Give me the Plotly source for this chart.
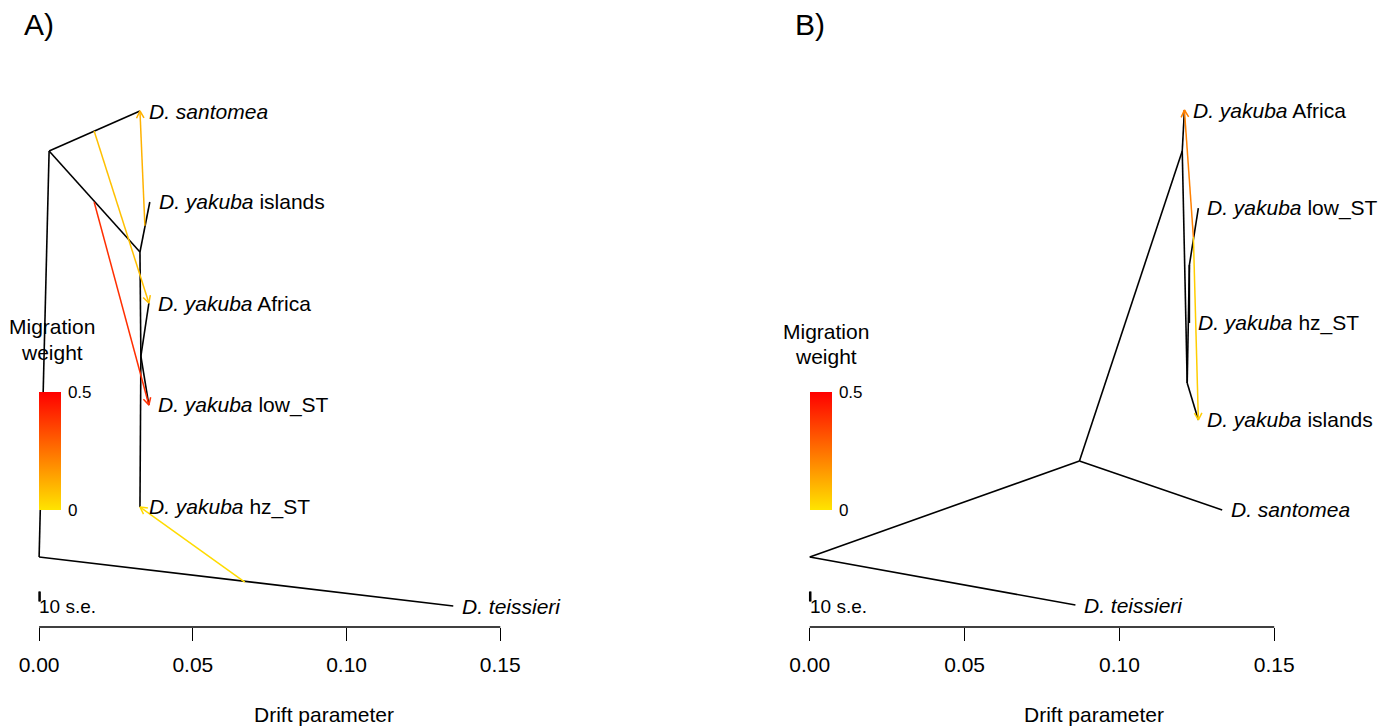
import numpy as np
import plotly.graph_objects as go
from plotly.colors import sample_colorscale

# ---------------- data ----------------
# Panel A tree (x = drift parameter, y = vertical tip position)
A_node_names = ["root", "n1", "n2", "n3", "teissieri", "santomea", "islands", "africa", "lowST", "hzST"]
A_node_x = [0.0, 0.00325, 0.0328, 0.0331, 0.1347, 0.0328, 0.0360, 0.0357, 0.0357, 0.0328]
A_node_y = [0.495, 4.596, 3.576, 2.525, 0.0, 5.0, 4.081, 3.06, 2.03, 1.0]
A_edge_from = ["root", "root", "n1", "n1", "n2", "n2", "n3", "n3", "n3"]
A_edge_to = ["teissieri", "n1", "santomea", "n2", "islands", "n3", "africa", "lowST", "hzST"]
A_mig_from_x = [0.0179, 0.0179, 0.0669, 0.0344]
A_mig_from_y = [4.798, 4.081, 0.242, 3.84]
A_mig_to = ["africa", "lowST", "hzST", "santomea"]
A_mig_weight = [0.08, 0.40, 0.02, 0.11]

# Panel B tree
B_node_names = ["root", "n1", "n2", "n3", "n4", "teissieri", "santomea", "africa", "islands", "lowST", "hzST"]
B_node_x = [0.0, 0.0871, 0.1203, 0.1219, 0.1226, 0.0858, 0.1332, 0.1210, 0.1255, 0.1255, 0.1226]
B_node_y = [0.495, 1.465, 4.596, 2.253, 3.444, 0.01, 0.97, 5.01, 1.879, 4.02, 2.859]
B_edge_from = ["root", "root", "n1", "n1", "n2", "n2", "n3", "n3", "n4", "n4"]
B_edge_to = ["teissieri", "n1", "santomea", "n2", "africa", "n3", "islands", "n4", "lowST", "hzST"]
B_mig_from_x = [0.1239, 0.1239]
B_mig_from_y = [3.727, 3.727]
B_mig_to = ["africa", "islands"]
B_mig_weight = [0.22, 0.05]

tip_names = ["teissieri", "santomea", "islands", "africa", "lowST", "hzST"]
tip_labels = ["<i>D. teissieri</i>", "<i>D. santomea</i>", "<i>D. yakuba</i> islands",
              "<i>D. yakuba</i> Africa", "<i>D. yakuba</i> low_ST", "<i>D. yakuba</i> hz_ST"]

x_tickvals = [0.0, 0.05, 0.10, 0.15]
x_ticktext = ["0.00", "0.05", "0.10", "0.15"]
scale_bar_len = 0.0003          # 10 standard errors (tiny)
weight_range = [0.0, 0.5]
weight_ticktext = ["0", "0.5"]
mig_colorscale = [[0.0, "#FFE400"], [1.0, "#FF0000"]]

# ---------------- layout geometry ----------------
W, H = 1397, 727
FONT = "Liberation Sans, Arial, Helvetica, sans-serif"
PLOT_TOP, PLOT_BOTTOM = 60, 627
Y_RANGE = [-0.2121, 5.5152]
PANELS = {
    "A": dict(xr=[-0.0072, 0.1828], px=(15, 600), xa="x", ya="y", mig_title=(50, 327)),
    "B": dict(xr=[-0.0061, 0.1874], px=(790, 1390), xa="x2", ya="y2", mig_title=(825, 331)),
}

fig = go.Figure()


def add_panel(key, names, nx, ny, efrom, eto, mfx, mfy, mto, mw):
    P = PANELS[key]
    xa, ya = P["xa"], P["ya"]
    sx = (P["px"][1] - P["px"][0]) / (P["xr"][1] - P["xr"][0])
    sy = (PLOT_BOTTOM - PLOT_TOP) / (Y_RANGE[1] - Y_RANGE[0])
    pos = {n: (x, y) for n, x, y in zip(names, nx, ny)}

    # tree edges
    ex, ey = [], []
    for a, b in zip(efrom, eto):
        ex += [pos[a][0], pos[b][0], None]
        ey += [pos[a][1], pos[b][1], None]
    fig.add_trace(go.Scatter(x=ex, y=ey, mode="lines", xaxis=xa, yaxis=ya,
                             line=dict(color="black", width=1.6), hoverinfo="skip"))

    # migration edges with arrow heads
    cols = sample_colorscale(mig_colorscale, [w / weight_range[1] for w in mw])
    for x0, y0, t, c in zip(mfx, mfy, mto, cols):
        x1, y1 = pos[t]
        dx, dy = (x1 - x0) * sx, (y1 - y0) * sy
        L = np.hypot(dx, dy)
        ux, uy = dx / L, dy / L
        hl, ang = 8.0, np.radians(28)
        wings = []
        for s in (1, -1):
            ca, sa = np.cos(s * ang), np.sin(s * ang)
            rx, ry = ux * ca - uy * sa, ux * sa + uy * ca
            wings.append((x1 - hl * rx / sx, y1 - hl * ry / sy))
        fig.add_trace(go.Scatter(
            x=[x0, x1, None, wings[0][0], x1, wings[1][0]],
            y=[y0, y1, None, wings[0][1], y1, wings[1][1]],
            mode="lines", xaxis=xa, yaxis=ya, line=dict(color=c, width=1.5), hoverinfo="skip"))

    # scale bar (10 s.e.)
    bar_y, bar_h = 0.096, 0.05
    fig.add_trace(go.Scatter(
        x=[0, 0, None, scale_bar_len, scale_bar_len, None, 0, scale_bar_len],
        y=[bar_y - bar_h, bar_y + bar_h, None, bar_y - bar_h, bar_y + bar_h, None, bar_y, bar_y],
        mode="lines", xaxis=xa, yaxis=ya, line=dict(color="black", width=1.6), hoverinfo="skip"))
    fig.add_annotation(x=0, y=-0.01, xref=xa, yref=ya, text="10 s.e.", showarrow=False,
                       xanchor="left", yanchor="middle", xshift=-2,
                       font=dict(family=FONT, size=19, color="black"))

    # tip labels
    for n, lab in zip(tip_names, tip_labels):
        fig.add_annotation(x=pos[n][0], y=pos[n][1], xref=xa, yref=ya, text=lab, showarrow=False,
                           xanchor="left", yanchor="middle", xshift=7,
                           font=dict(family=FONT, size=21, color="black"))

    # colour bar via a dummy trace
    x0px = P["px"][0] + (0 - P["xr"][0]) * sx
    cbar = dict(x=x0px / W, xanchor="left", xpad=0, y=1 - 451 / H, yanchor="middle",
                ypad=0, len=118, lenmode="pixels", thickness=22, thicknessmode="pixels",
                outlinewidth=0, tickvals=weight_range, ticktext=weight_ticktext,
                ticks="outside", ticklen=4, tickcolor="rgba(0,0,0,0)",
                tickfont=dict(family=FONT, size=17, color="black"))
    fig.add_trace(go.Scatter(
        x=[pos[tip_names[0]][0]] * 2, y=[pos[tip_names[0]][1]] * 2, xaxis=xa, yaxis=ya,
        mode="markers", hoverinfo="skip",
        marker=dict(size=1, opacity=0, color=weight_range, cmin=weight_range[0], cmax=weight_range[1],
                    colorscale=mig_colorscale, showscale=True, colorbar=cbar)))

    # colour bar title
    tx, ty = P["mig_title"]
    for i, word in enumerate(["Migration", "weight"]):
        fig.add_annotation(x=tx / W, y=1 - (ty + 25 * i) / H, xref="paper", yref="paper",
                           text=word, showarrow=False, xanchor="center", yanchor="middle",
                           font=dict(family=FONT, size=21, color="black"))
    return x0px


# ---------------- build ----------------
x0A = add_panel("A", A_node_names, A_node_x, A_node_y, A_edge_from, A_edge_to,
                A_mig_from_x, A_mig_from_y, A_mig_to, A_mig_weight)
x0B = add_panel("B", B_node_names, B_node_x, B_node_y, B_edge_from, B_edge_to,
                B_mig_from_x, B_mig_from_y, B_mig_to, B_mig_weight)

ydom = [1 - PLOT_BOTTOM / H, 1 - PLOT_TOP / H]
axis_common = dict(showgrid=False, zeroline=False, showline=False, ticks="outside", ticklen=13,
                   tickwidth=1.3, tickcolor="black", tickvals=x_tickvals, ticktext=x_ticktext,
                   ticklabelstandoff=6,
                   tickfont=dict(family=FONT, size=21, color="black"), fixedrange=True)
yaxis_common = dict(range=Y_RANGE, domain=ydom, visible=False, fixedrange=True)

fig.update_layout(
    width=W, height=H, margin=dict(l=0, r=0, t=0, b=0),
    paper_bgcolor="white", plot_bgcolor="white", showlegend=False,
    xaxis=dict(range=PANELS["A"]["xr"], domain=[PANELS["A"]["px"][0] / W, PANELS["A"]["px"][1] / W],
               anchor="y", **axis_common),
    yaxis=dict(anchor="x", **yaxis_common),
    xaxis2=dict(range=PANELS["B"]["xr"], domain=[PANELS["B"]["px"][0] / W, PANELS["B"]["px"][1] / W],
                anchor="y2", **axis_common),
    yaxis2=dict(anchor="x2", **yaxis_common),
)

# axis baselines from first to last tick
for xa in ("x", "x2"):
    fig.add_shape(type="line", xref=xa, yref="paper", x0=x_tickvals[0], x1=x_tickvals[-1],
                  y0=ydom[0], y1=ydom[0], line=dict(color="black", width=1.3))

# panel letters, axis titles
for letter, x0px in (("A)", x0A), ("B)", x0B)):
    fig.add_annotation(x=x0px / W, y=1 - 24 / H, xref="paper", yref="paper", text=letter,
                       showarrow=False, xanchor="center", yanchor="middle",
                       font=dict(family=FONT, size=30, color="black"))
    fig.add_annotation(x=(x0px + 285) / W, y=1 - 714 / H, xref="paper", yref="paper",
                       text="Drift parameter", showarrow=False, xanchor="center", yanchor="middle",
                       font=dict(family=FONT, size=21, color="black"))

fig.write_html("out.html")
